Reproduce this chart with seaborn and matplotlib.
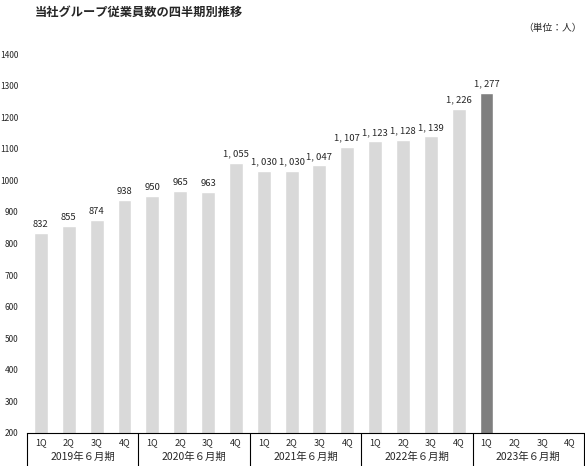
import matplotlib
matplotlib.use("Agg")
import matplotlib.pyplot as plt
import seaborn as sns
import pandas as pd

years = ["2019年６月期", "2020年６月期", "2021年６月期", "2022年６月期", "2023年６月期"]
quarters = ["1Q", "2Q", "3Q", "4Q"]
employees = [832, 855, 874, 938,
             950, 965, 963, 1055,
             1030, 1030, 1047, 1107,
             1123, 1128, 1139, 1226,
             1277]

slots = [f"{y}-{q}" for y in years for q in quarters]
df = pd.DataFrame({"slot": slots[:len(employees)], "value": employees})
df["latest"] = ["past"] * (len(employees) - 1) + ["latest"]

sns.set_style("white")
plt.rcParams["font.family"] = ["Noto Sans CJK JP", "DejaVu Sans"]

fig = plt.figure(figsize=(5.85, 4.66), dpi=100)
ax = fig.add_axes([27 / 585, 33 / 466, 557 / 585, (433 - 54) / 466])

sns.barplot(data=df, x="slot", y="value", hue="latest", order=slots,
            palette={"past": "#d9d9d9", "latest": "#7f7f7f"},
            width=0.5, legend=False, ax=ax, saturation=1)

ax.set_ylim(200, 1400)
ax.set_yticks(range(200, 1401, 100))
ax.tick_params(axis="y", labelsize=6, pad=6, length=0)
ax.set_xticks([])
ax.set_xlabel("")
ax.set_ylabel("")
for s in ["top", "right", "left"]:
    ax.spines[s].set_visible(False)
ax.spines["bottom"].set_color("black")
ax.spines["bottom"].set_linewidth(0.8)

for i, v in enumerate(employees):
    ax.annotate(f"{v // 1000}, {v % 1000:03d}" if v >= 1000 else str(v),
                (i, v), xytext=(0, 3), textcoords="offset points",
                ha="center", va="bottom", fontsize=6.8)

# bottom category table
trans = ax.get_xaxis_transform()
for k in range(len(years) + 1):
    ax.plot([k * 4 - 0.5] * 2, [0, -0.1], transform=trans, color="black",
            lw=0.8, clip_on=False)
for i, s in enumerate(slots):
    ax.text(i, -0.025, s.split("-")[1], transform=trans, ha="center",
            va="center", fontsize=6.5)
for k, y in enumerate(years):
    ax.text(k * 4 + 1.5, -0.064, y, transform=trans, ha="center",
            va="center", fontsize=7.5)
ax.set_xlim(-0.5, len(slots) - 0.5)

fig.text(35 / 585, 1 - 12 / 466, "当社グループ従業員数の四半期別推移",
         fontsize=8.8, fontweight="bold", va="center", ha="left")
fig.text(582 / 585, 1 - 28 / 466, "（単位：人）", fontsize=7,
         va="center", ha="right")

fig.savefig("out.png", dpi=100)
